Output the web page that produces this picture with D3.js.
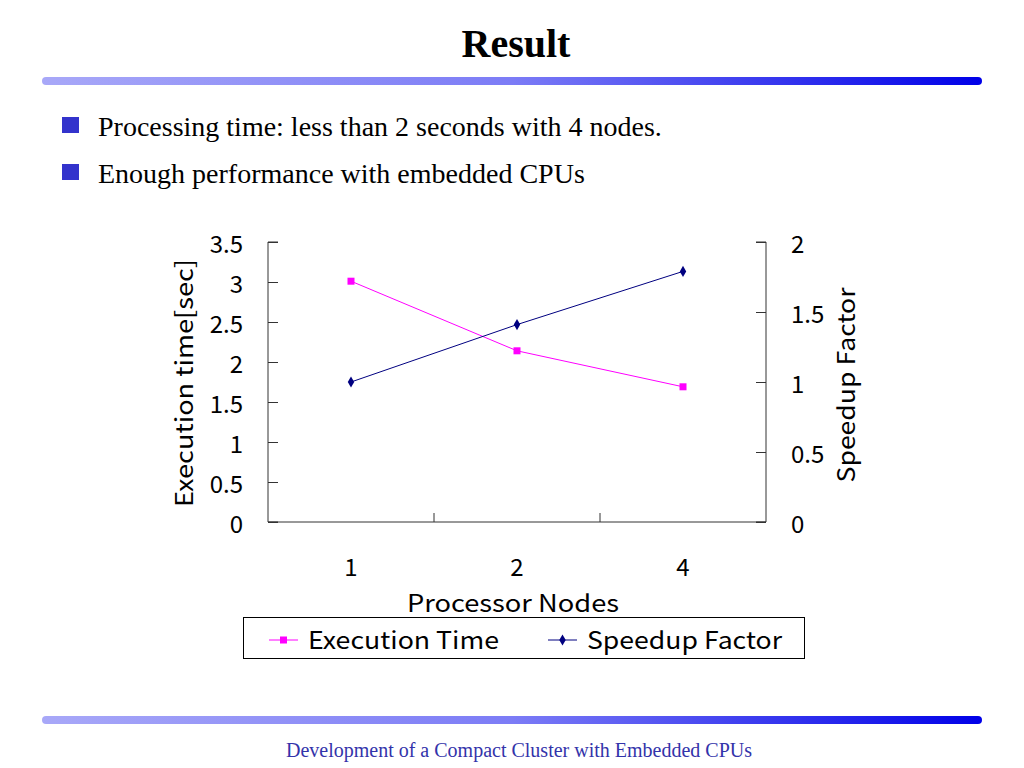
<!DOCTYPE html>
<html>
<head>
<meta charset="utf-8">
<script src="https://cdn.jsdelivr.net/npm/d3@7"></script>
<style>
html,body{margin:0;padding:0;background:#fff;}
svg{display:block;}
</style>
</head>
<body>
<svg id="chart" width="1024" height="768"></svg>
<script>
const categories = ["1", "2", "4"];
const executionTime = [3.01, 2.14, 1.69];
const speedupFactor = [1.0, 1.41, 1.79];
const leftTicks = [0, 0.5, 1, 1.5, 2, 2.5, 3, 3.5];
const rightTicks = [0, 0.5, 1, 1.5, 2];
const seriesNames = ["Execution Time", "Speedup Factor"];
const bullets = ["Processing time: less than 2 seconds with 4 nodes.", "Enough performance with embedded CPUs"];
const titleText = "Result";
const footerText = "Development of a Compact Cluster with Embedded CPUs";

const svg = d3.select("#chart");
const serif = "'Liberation Serif','Times New Roman',serif";
const sans = "'Noto Sans CJK JP','Noto Sans',sans-serif";

// gradient for separator bars
const defs = svg.append("defs");
const grad = defs.append("linearGradient").attr("id","bar").attr("x1","0").attr("x2","1");
grad.append("stop").attr("offset","0").attr("stop-color","#a8a8f8");
grad.append("stop").attr("offset","0.5").attr("stop-color","#7c7cf6");
grad.append("stop").attr("offset","1").attr("stop-color","#0000e8");

svg.append("text").attr("x",516).attr("y",57).attr("text-anchor","middle")
  .attr("font-family",serif).attr("font-weight","bold").attr("font-size",40).text(titleText);

svg.append("rect").attr("x",42).attr("y",77).attr("width",940).attr("height",8).attr("rx",4).attr("fill","url(#bar)");
svg.append("rect").attr("x",42).attr("y",716).attr("width",940).attr("height",8).attr("rx",4).attr("fill","url(#bar)");

bullets.forEach((b,i)=>{
  const y = 136 + i*47;
  svg.append("rect").attr("x",62).attr("y",y-19).attr("width",17).attr("height",16).attr("fill","#3333cc");
  svg.append("text").attr("x",98).attr("y",y).attr("font-family",serif).attr("font-size",28).attr("fill","#000").text(b);
});

svg.append("text").attr("x",519).attr("y",757).attr("text-anchor","middle")
  .attr("font-family",serif).attr("font-size",20).attr("fill","#3333aa").text(footerText);

// chart
const L=268, R=766, T=242, B=522;
const x = d3.scaleBand().domain(categories).range([L,R]);
const yL = d3.scaleLinear().domain([0,3.5]).range([B,T]);
const yR = d3.scaleLinear().domain([0,2]).range([B,T]);
const g = svg.append("g");
const axisColor = "#333";

// left axis
const la = g.append("g").attr("transform",`translate(${L},0)`)
  .call(d3.axisRight(yL).tickValues(leftTicks).tickSize(10).tickFormat(""));
la.selectAll("line,path").attr("stroke",axisColor);
la.select(".domain").attr("d",`M10,${T}H0V${B}H10`);
g.selectAll(".ltl").data(leftTicks).join("text").attr("class","ltl")
  .attr("x",243).attr("y",d=>yL(d)+11).attr("text-anchor","end")
  .attr("font-family",sans).attr("font-size",24).text(d=>d);

// right axis
const ra = g.append("g").attr("transform",`translate(${R},0)`)
  .call(d3.axisLeft(yR).tickValues(rightTicks).tickSize(10).tickFormat(""));
ra.selectAll("line,path").attr("stroke",axisColor);
ra.select(".domain").attr("d",`M-10,${T}H0V${B}H-10`);
g.selectAll(".rtl").data(rightTicks).join("text").attr("class","rtl")
  .attr("x",791).attr("y",d=>yR(d)+11).attr("text-anchor","start")
  .attr("font-family",sans).attr("font-size",24).text(d=>d);

// x axis
const boundaries = categories.slice(1).map(c=>x(c));
const xa = g.append("g").attr("transform",`translate(0,${B})`)
  .call(d3.axisTop(x).tickValues([]).tickSizeOuter(0));
xa.select(".domain").attr("d",`M${L},0H${R}`).attr("stroke",axisColor);
xa.selectAll(".bt").data(boundaries).join("line").attr("class","bt")
  .attr("x1",d=>d).attr("x2",d=>d).attr("y1",0).attr("y2",-9).attr("stroke",axisColor);
g.selectAll(".xtl").data(categories).join("text").attr("class","xtl")
  .attr("x",d=>x(d)+x.bandwidth()/2).attr("y",576).attr("text-anchor","middle")
  .attr("font-family",sans).attr("font-size",24).text(d=>d);

// axis titles
g.append("text").attr("transform","translate(193,383) rotate(-90)").attr("text-anchor","middle")
  .attr("font-family",sans).attr("font-size",24)
  .attr("textLength",248).attr("lengthAdjust","spacingAndGlyphs").text("Execution time[sec]");
g.append("text").attr("transform","translate(855,385) rotate(-90)").attr("text-anchor","middle")
  .attr("font-family",sans).attr("font-size",24)
  .attr("textLength",195).attr("lengthAdjust","spacingAndGlyphs").text("Speedup Factor");
g.append("text").attr("x",513).attr("y",612).attr("text-anchor","middle")
  .attr("font-family",sans).attr("font-size",24)
  .attr("textLength",212).attr("lengthAdjust","spacingAndGlyphs").text("Processor Nodes");

const cx = d=>x(d)+x.bandwidth()/2;
const pink="#ff00ff", navy="#000080";

// execution time series
g.append("path").datum(executionTime)
  .attr("d", d3.line().x((d,i)=>cx(categories[i])).y(d=>yL(d)))
  .attr("fill","none").attr("stroke",pink).attr("stroke-width",1);
g.selectAll(".sq").data(executionTime).join("rect").attr("class","sq")
  .attr("x",(d,i)=>cx(categories[i])-3.5).attr("y",d=>yL(d)-3.5).attr("width",7).attr("height",7).attr("fill",pink);

// speedup series
g.append("path").datum(speedupFactor)
  .attr("d", d3.line().x((d,i)=>cx(categories[i])).y(d=>yR(d)))
  .attr("fill","none").attr("stroke",navy).attr("stroke-width",1);
const diamond = d3.symbol().type(d3.symbolDiamond).size(36);
g.selectAll(".dm").data(speedupFactor).join("path").attr("class","dm")
  .attr("transform",(d,i)=>`translate(${cx(categories[i])},${yR(d)})`).attr("d",diamond).attr("fill",navy);

// legend
const lg = svg.append("g");
lg.append("rect").attr("x",243.5).attr("y",617.5).attr("width",561).attr("height",41).attr("fill","#fff").attr("stroke","#000");
const legendItems = [{name:seriesNames[0],color:pink,x:269,w:191,shape:"sq"},{name:seriesNames[1],color:navy,x:548,w:195,shape:"dm"}];
legendItems.forEach(it=>{
  lg.append("line").attr("x1",it.x).attr("x2",it.x+29).attr("y1",640).attr("y2",640).attr("stroke",it.color);
  if(it.shape==="sq") lg.append("rect").attr("x",it.x+11).attr("y",636.5).attr("width",7).attr("height",7).attr("fill",it.color);
  else lg.append("path").attr("transform",`translate(${it.x+14.5},640)`).attr("d",diamond).attr("fill",it.color);
  lg.append("text").attr("x",it.x+39).attr("y",649).attr("font-family",sans).attr("font-size",24)
    .attr("textLength",it.w).attr("lengthAdjust","spacingAndGlyphs").text(it.name);
});
</script>
</body>
</html>
